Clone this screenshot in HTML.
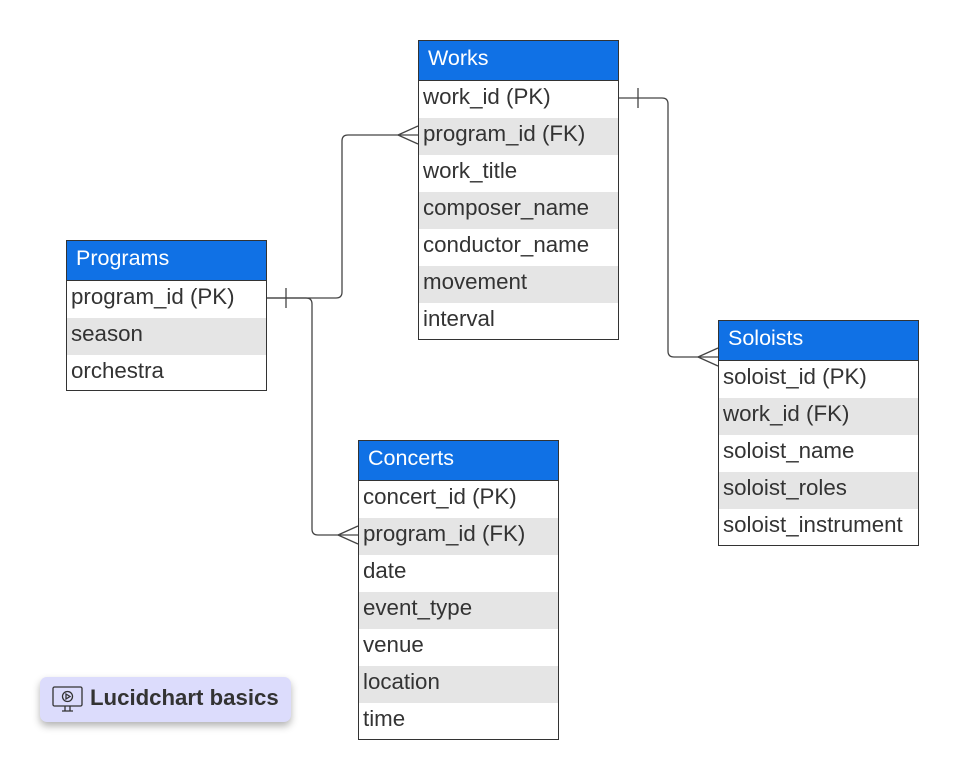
<!DOCTYPE html>
<html><head><meta charset="utf-8"><style>
body{margin:0;width:958px;height:779px;background:#fff;position:relative;font-family:"Liberation Sans",sans-serif;overflow:hidden}
.t{position:absolute;width:201px;border:1px solid #333;box-sizing:border-box;background:#fff}
.h{height:39px;background:#1071e5;color:#fff;font-size:21.5px;line-height:34px;padding-left:9px;border-bottom:1px solid #333}
.r{height:37px;font-size:22.3px;line-height:31px;padding-left:4px;color:#333}
.g{background:#e5e5e5}
.badge{position:absolute;left:40px;top:677px;width:251px;height:45px;background:#dcdcfc;border-radius:7px;box-shadow:0 4px 8px rgba(0,0,0,.3);font-weight:bold;font-size:22.2px;color:#333;line-height:42px}
</style></head><body>
<svg width="958" height="779" style="position:absolute;left:0;top:0" fill="none" stroke="#444" stroke-width="1.3">
<path d="M266 298 H336 Q342 298 342 292 V141 Q342 135 348 135 H418"/>
<path d="M286 288 V308"/>
<path d="M398 135 L418 126 M398 135 L418 144"/>
<path d="M266 298 H306 Q312 298 312 304 V529 Q312 535 318 535 H358"/>
<path d="M338 535 L358 526 M338 535 L358 544"/>
<path d="M618 98 H662 Q668 98 668 104 V351 Q668 357 674 357 H718"/>
<path d="M638 88 V108"/>
<path d="M698 357 L718 348 M698 357 L718 366"/>
</svg>
<div class="t" style="left:418px;top:40px;height:300px"><div class="h">Works</div>
<div class="r">work_id (PK)</div><div class="r g">program_id (FK)</div><div class="r">work_title</div><div class="r g">composer_name</div><div class="r">conductor_name</div><div class="r g">movement</div><div class="r">interval</div></div>
<div class="t" style="left:66px;top:240px;height:151px"><div class="h">Programs</div>
<div class="r">program_id (PK)</div><div class="r g">season</div><div class="r">orchestra</div></div>
<div class="t" style="left:358px;top:440px;height:300px"><div class="h">Concerts</div>
<div class="r">concert_id (PK)</div><div class="r g">program_id (FK)</div><div class="r">date</div><div class="r g">event_type</div><div class="r">venue</div><div class="r g">location</div><div class="r">time</div></div>
<div class="t" style="left:718px;top:320px;height:226px"><div class="h">Soloists</div>
<div class="r">soloist_id (PK)</div><div class="r g">work_id (FK)</div><div class="r">soloist_name</div><div class="r g">soloist_roles</div><div class="r">soloist_instrument</div></div>
<div class="badge">
<svg width="32" height="28" style="position:absolute;left:12px;top:9px" fill="none" stroke="#333" stroke-width="1.3">
<rect x="1" y="1" width="29" height="19" rx="1.5"/><circle cx="15.5" cy="10.5" r="5"/><path d="M14 8 L18 10.5 L14 13 Z"/><path d="M13 20 V25 M18 20 V25 M10 25 H21"/></svg>
<span style="position:absolute;left:50px;top:0">Lucidchart basics</span></div>
</body></html>
